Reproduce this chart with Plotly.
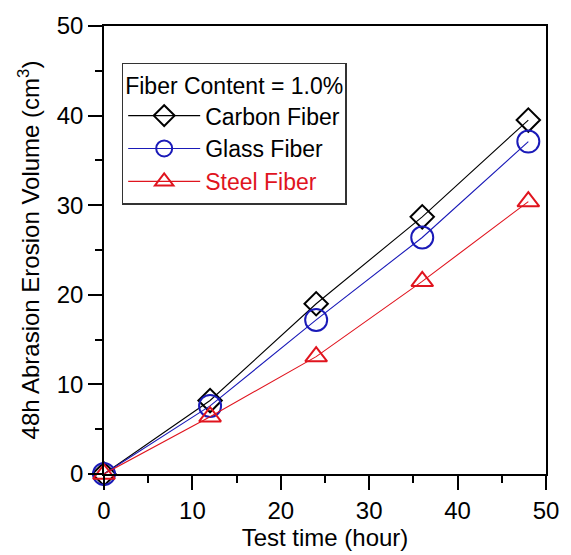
import plotly.graph_objects as go

time_h = [0, 12, 24, 36, 48]
carbon = [0, 8.2, 19.0, 28.7, 39.5]
glass = [0, 7.6, 17.2, 26.4, 37.1]
steel = [0, 6.4, 13.1, 21.5, 30.4]

series = [
    ("Carbon Fiber", carbon, "black", "diamond-open", 18),
    ("Glass Fiber", glass, "#1a1ab8", "circle-open", 22),
    ('<span style="color:#e0141e">Steel Fiber</span>', steel, "#e0141e", "triangle-up-open", 19),
]

fig = go.Figure()
for name, ys, col, sym, sz in series:
    fig.add_trace(go.Scatter(
        x=time_h, y=ys, mode="lines+markers", name=name,
        line=dict(color=col, width=1.1),
        marker=dict(symbol=sym, size=sz, color=col, line=dict(width=2, color=col)),
        cliponaxis=False,
    ))

FONT = "Arial, Liberation Sans, sans-serif"
axis_common = dict(
    showline=True, linecolor="black", linewidth=1.5, mirror=True,
    ticks="outside", ticklen=14, tickwidth=1.5, tickcolor="black",
    showgrid=False, zeroline=False,
    tickfont=dict(family=FONT, size=24, color="black"),
    minor=dict(ticks="outside", ticklen=7, tickwidth=1.5, tickcolor="black",
               showgrid=False, dtick=5),
)

fig.update_layout(
    width=571, height=555,
    margin=dict(l=104, r=17, t=22, b=81),
    paper_bgcolor="white", plot_bgcolor="white",
    font=dict(family=FONT, size=24, color="black"),
    xaxis=dict(range=[0, 50], dtick=10,
               title=dict(text="Test time (hour)", standoff=0, font=dict(size=24)),
               **axis_common),
    yaxis=dict(range=[0, 50], dtick=10,
               title=dict(text="48h Abrasion Erosion Volume (cm<sup>3</sup>)",
                          standoff=10, font=dict(size=24)),
               **axis_common),
    legend=dict(
        x=0.04, y=0.918, xanchor="left", yanchor="top",
        bgcolor="white", bordercolor="#333", borderwidth=1.5,
        title=dict(text="Fiber Content = 1.0%", font=dict(size=23)),
        font=dict(size=23), itemwidth=72, tracegroupgap=0,
    ),
)

fig.write_html("out.html")
